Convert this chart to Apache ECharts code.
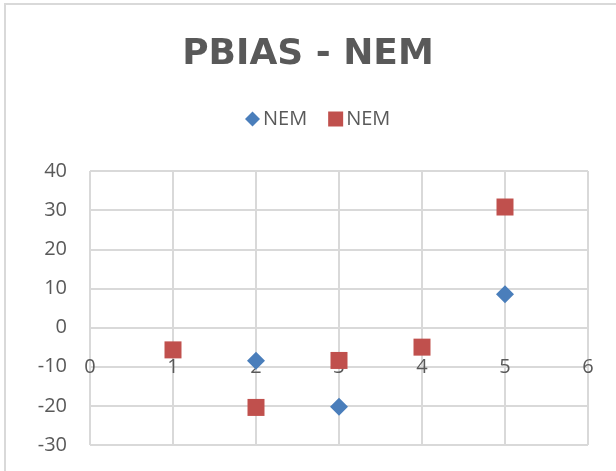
<!DOCTYPE html>
<html>
<head>
  <meta charset="utf-8">
  <style>
    html, body { margin: 0; height: 100%; background: #fff; }
    #frame { position: absolute; left: 4px; top: 3px; right: 0; bottom: 0;
             border-left: 2px solid #d9d9d9; border-top: 2px solid #d9d9d9; }
    #container { position: absolute; left: 0; top: 0; width: 616px; height: 471px; }
  </style>
</head>
<body>
  <div id="frame"></div>
  <div id="container"></div>

  <script src="https://cdn.jsdelivr.net/npm/echarts@6/dist/echarts.min.js"></script>
  <script>
    var titleText = 'PBIAS - NEM';
    var seriesNames = ['NEM', 'NEM'];
    // blue diamonds
    var nemA = [[2, -8.5], [3, -20.2], [5, 8.5]];
    // red squares
    var nemB = [[1, -5.7], [2, -20.4], [3, -8.4], [4, -5.0], [5, 30.8]];
    var xRange = [0, 6];
    var yRange = [-30, 40];

    var chart = echarts.init(document.getElementById('container'), null, { renderer: 'canvas' });
    var font = '"Open Sans", "Liberation Sans", sans-serif';

    var option = {
      animation: false,
      title: {
        text: titleText,
        left: 'center',
        top: 32,
        textStyle: { fontFamily: '"DejaVu Sans", sans-serif', fontSize: 36, fontWeight: 'bold', color: '#595959' }
      },
      legend: {
        top: 104,
        left: 240,
        itemWidth: 15,
        itemHeight: 15,
        itemGap: 21,
        textStyle: { fontFamily: font, fontSize: 20, color: '#595959', padding: [0, 0, 0, -2] },
        data: [
          { name: 'A', icon: 'diamond' },
          { name: 'B', icon: 'rect' }
        ],
        formatter: function (n) { return n === 'A' ? seriesNames[0] : seriesNames[1]; }
      },
      grid: { left: 90, right: 28, top: 171, bottom: 26, containLabel: false, outerBoundsMode: 'none' },
      xAxis: {
        type: 'value',
        min: xRange[0],
        max: xRange[1],
        interval: 1,
        z: 0,
        axisLine: { show: false, onZero: false },
        axisTick: { show: false },
        // Excel draws these labels beside the -10 gridline
        axisLabel: { margin: -88, fontFamily: font, fontSize: 20, color: '#595959' },
        splitLine: { show: true, lineStyle: { color: '#d9d9d9', width: 2 } }
      },
      yAxis: {
        type: 'value',
        min: yRange[0],
        max: yRange[1],
        interval: 10,
        axisLine: { show: false, onZero: false },
        axisTick: { show: false },
        axisLabel: { margin: 23, fontFamily: font, fontSize: 20, color: '#595959' },
        splitLine: { show: true, lineStyle: { color: '#d9d9d9', width: 2 } }
      },
      series: [
        {
          name: 'A',
          type: 'scatter',
          symbol: 'diamond',
          symbolSize: 18,
          z: 5,
          itemStyle: { color: '#4a7ebb', opacity: 1 },
          data: nemA
        },
        {
          name: 'B',
          type: 'scatter',
          symbol: 'rect',
          symbolSize: 17,
          z: 5,
          itemStyle: { color: '#c0504d', opacity: 1 },
          data: nemB
        }
      ]
    };
    chart.setOption(option);
    window.addEventListener('resize', chart.resize);
  </script>
</body>
</html>
